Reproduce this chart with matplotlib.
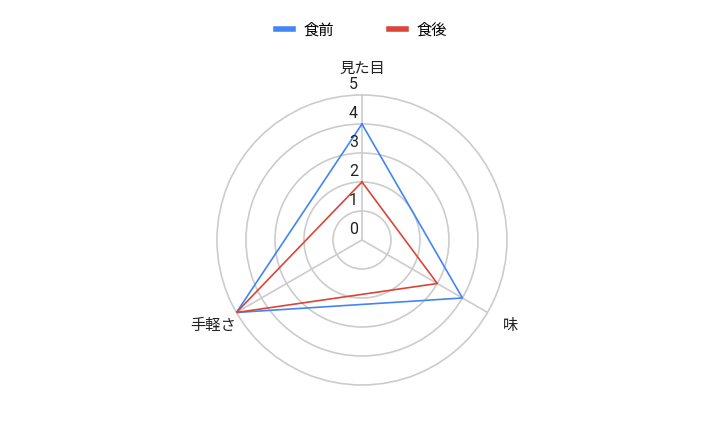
import numpy as np
import matplotlib
matplotlib.use("Agg")
import matplotlib.pyplot as plt
from matplotlib.lines import Line2D

plt.rcParams['font.family'] = ['Noto Sans CJK JP', 'DejaVu Sans']

# data
categories = ["見た目", "味", "手軽さ"]
series_names = ["食前", "食後"]
before = [4, 4, 5]
after = [2, 3, 5]
colors = ["#4285f4", "#db4437"]
r_ticks = [0, 1, 2, 3, 4, 5]

grid_col = "#cccccc"
txt_col = "#222222"

fig = plt.figure(figsize=(7.23, 4.46), dpi=100)
ax = fig.add_axes([0.3001, 0.1368, 0.4011, 0.6502], projection="polar")
ax.set_theta_offset(np.pi / 2)
ax.set_theta_direction(-1)

n = len(categories)
angles = np.arange(n) * 2 * np.pi / n
ang_closed = np.append(angles, angles[0])

ax.set_ylim(0, 5)
ax.set_rgrids(r_ticks[1:-1], labels=[""] * (len(r_ticks) - 2))
ax.set_thetagrids(np.degrees(angles), labels=[""] * n)
ax.grid(True, color=grid_col, lw=1.2)
ax.spines["polar"].set_color(grid_col)
ax.spines["polar"].set_linewidth(1.2)
ax.set_facecolor("none")

for vals, col, name in zip([before, after], colors, series_names):
    v = np.append(vals, vals[0])
    ax.plot(ang_closed, v, color=col, lw=1.2, label=name, zorder=3)

# radial tick labels
for r in r_ticks:
    ax.annotate(str(r), xy=(0, r), xytext=(-4, 10), textcoords="offset pixels",
                ha="right", va="center", fontsize=11.5, color=txt_col,
                family=["Roboto", "DejaVu Sans"], annotation_clip=False)

# category labels
for a, lab in zip(angles, categories):
    ax.text(a, 5.92, lab, ha="center", va="center", fontsize=11, color=txt_col)

handles = [Line2D([0], [0], color=c, lw=4) for c in colors]
fig.legend(handles, series_names, loc="center", bbox_to_anchor=(0.5, 0.933),
           ncol=2, frameon=False, fontsize=11, handlelength=1.1,
           handletextpad=0.7, columnspacing=3.6)

fig.savefig("out.png", dpi=100, facecolor="white")
